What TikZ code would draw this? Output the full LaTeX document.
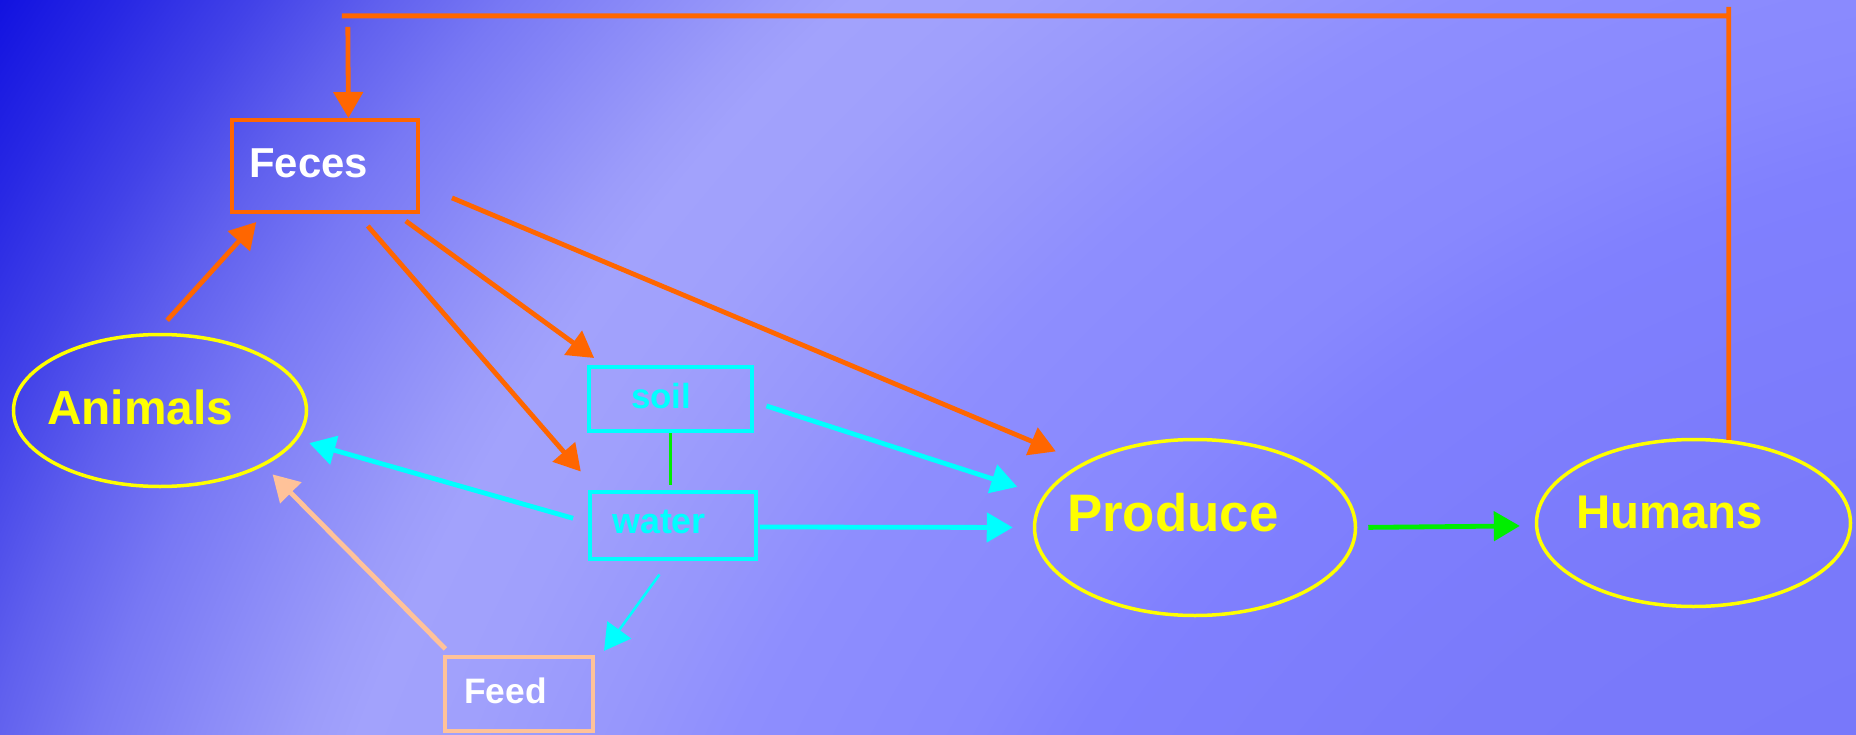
\documentclass[tikz,border=0pt]{standalone}
\usepackage{fontspec}
\setmainfont{Liberation Sans}
\usetikzlibrary{arrows.meta,calc,shapes.geometric}

% palette
\definecolor{flowOrange}{HTML}{FF6600}
\definecolor{flowCyan}{HTML}{00FFFF}
\definecolor{flowGreen}{HTML}{00EE00}
\definecolor{flowPeach}{HTML}{FFC299}
\definecolor{flowYellow}{HTML}{FFFF00}

% background glow, radii in bp from the glow centre
\definecolor{bg00}{HTML}{7676F8}
\definecolor{bg01}{HTML}{7878FA}
\definecolor{bg02}{HTML}{7A7AFA}
\definecolor{bg03}{HTML}{8080FE}
\definecolor{bg04}{HTML}{8888FE}
\definecolor{bg05}{HTML}{8E8EFE}
\definecolor{bg06}{HTML}{9696FC}
\definecolor{bg07}{HTML}{A0A0FC}
\definecolor{bg08}{HTML}{A2A2FC}
\definecolor{bg09}{HTML}{9C9CFA}
\definecolor{bg10}{HTML}{8C8CF8}
\definecolor{bg11}{HTML}{7878F4}
\definecolor{bg12}{HTML}{6060EE}
\definecolor{bg13}{HTML}{4242E8}
\definecolor{bg14}{HTML}{2828E4}
\definecolor{bg15}{HTML}{1212E0}
\definecolor{bg16}{HTML}{1010E0}
\pgfdeclareradialshading{skyglow}{\pgfpoint{0bp}{0bp}}{%
  color(0bp)=(bg00); color(767bp)=(bg01); color(1000bp)=(bg02);
  color(1300bp)=(bg03); color(1400bp)=(bg04); color(1600bp)=(bg05);
  color(1700bp)=(bg06); color(1850bp)=(bg07); color(1950bp)=(bg08);
  color(2000bp)=(bg09); color(2091bp)=(bg10); color(2200bp)=(bg11);
  color(2298bp)=(bg12); color(2400bp)=(bg13); color(2504bp)=(bg14);
  color(2607bp)=(bg15); color(2700bp)=(bg16)}

\begin{document}
\begin{tikzpicture}[x=1bp,y=-1bp,
  boxnode/.style={draw=#1, rectangle, line width=4bp, inner sep=0pt},
  ovalnode/.style={draw=flowYellow, ellipse, line width=3.5bp, inner sep=0pt},
  lbl/.style={anchor=base west, inner sep=0pt, text=#1},
  arr/.style={-{Triangle[length=26bp,width=29bp]}, line width=4.8bp},
]
\useasboundingbox (0,0) rectangle (1856,735);

% background
\begin{scope}
  \clip (0,0) rectangle (1856,735);
  \node[inner sep=0pt, outer sep=0pt] (glow) at (2180,1430) {\pgfuseshading{skyglow}};
\end{scope}

% shapes
\node[boxnode=flowOrange, minimum width=186bp, minimum height=92bp] (feces) at (325,166) {};
\node[boxnode=flowCyan, minimum width=163bp, minimum height=64bp] (soil) at (670.5,399) {};
\node[boxnode=flowCyan, minimum width=166bp, minimum height=67bp] (water) at (673,525.5) {};
\node[boxnode=flowPeach, minimum width=148bp, minimum height=74bp] (feed) at (519,694) {};
\node[ovalnode, minimum width=293bp, minimum height=152bp] (animals) at (160,410.5) {};
\node[ovalnode, minimum width=321bp, minimum height=176bp] (produce) at (1195,527.5) {};
\node[ovalnode, minimum width=314bp, minimum height=167bp] (humans) at (1693.5,523) {};

% labels
\node[lbl=white, font={\fontsize{42}{50}\selectfont\bfseries}] (fecesLbl) at (249,178) {Feces};
\node[lbl=flowYellow, font={\fontsize{48}{56}\selectfont\bfseries}] (animalsLbl) at (47,424) {Animals};
\node[lbl=flowCyan, font={\fontsize{35}{42}\selectfont\bfseries}] (soilLbl) at (631,408) {soil};
\node[lbl=flowCyan, font={\fontsize{36}{42}\selectfont\bfseries}] (waterLbl) at (612,533) {water};
\node[lbl=white, font={\fontsize{35.5}{42}\selectfont\bfseries}] (feedLbl) at (464,703) {Feed};
\node[lbl=flowYellow, font={\fontsize{53}{60}\selectfont\bfseries}] (produceLbl) at (1067,531) {Produce};
\node[lbl=flowYellow, font={\fontsize{47.5}{56}\selectfont\bfseries}] (humansLbl) at (1576,528) {Humans};

% manure flows
\draw[arr, color=flowOrange, shorten <=16.8bp, shorten >=10.8bp] (animals.93.2) -- (feces.218.2);
\draw[arr, color=flowOrange, shorten <=15.9bp, shorten >=24.5bp] (feces.-56.1) -- (water.155.3);
\draw[arr, color=flowOrange, shorten <=11.9bp, shorten >=11.9bp] (feces.-34.1) -- (soil.153.4);
\draw[arr, color=flowOrange, shorten <=34.7bp, shorten >=29.2bp] (feces.-11.1) -- (produce.150.8);
\draw[arr, color=flowOrange, shorten <=11bp]
  (humans.67.1) -- ++(0,-433) ++(0,9) -- ++(-1387,0) ++(6,0) -- (feces.64.9);

% water and soil flows
\draw[arr, color=flowCyan, shorten <=15.5bp, shorten >=12.4bp] (water.178) -- (animals.-12.9);
\draw[arr, color=flowCyan, shorten <=2bp, shorten >=20bp] (water.-1.5) -- (produce.180);
\draw[arr, color=flowCyan, shorten <=13.1bp, shorten >=27.6bp] (soil.-2.8) -- (produce.168.3);
\draw[arr, color=flowCyan, line width=2.5bp, shorten <=16.7bp, shorten >=15.3bp] (water.-96.9) -- (feed.22.8);
\draw[line width=3.5bp, color=flowGreen, shorten >=5bp] (soil.south) -- (soil.south |- water.north);

% feed and food
\draw[arr, color=flowPeach, shorten <=8.5bp, shorten >=12bp] (feed.150.8) -- (animals.-28.4);
\draw[arr, color=flowGreen, shorten <=11bp, shorten >=15bp] (produce.0) -- (humans.181.5);
\end{tikzpicture}
\end{document}
